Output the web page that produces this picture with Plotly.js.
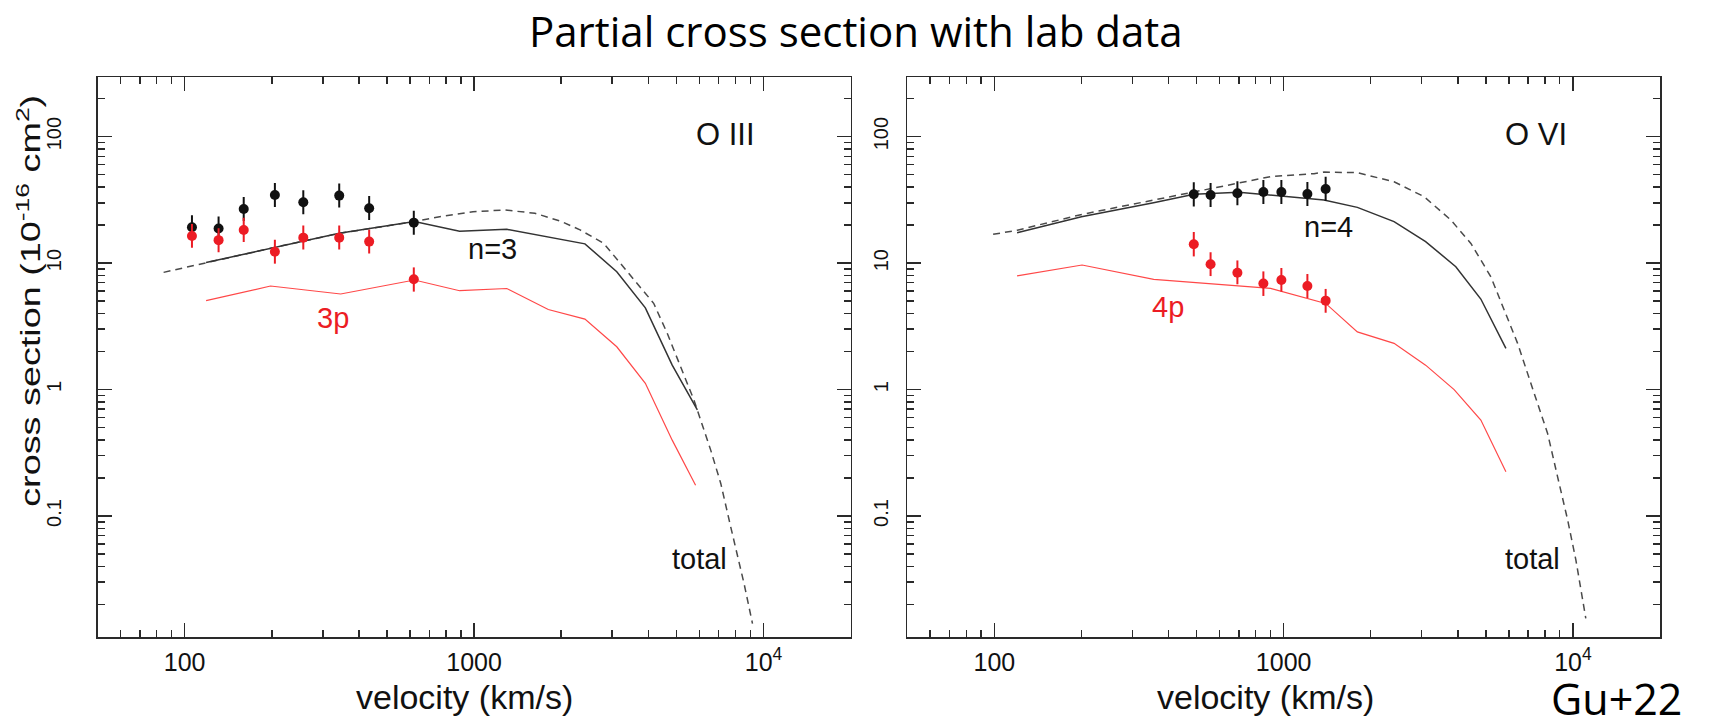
<!DOCTYPE html>
<html>
<head>
<meta charset="utf-8">
<script src="https://cdn.plot.ly/plotly-3.0.1.min.js"></script>
<style>html,body{margin:0;padding:0;background:#fff;}#chart{width:1711px;height:720px;}</style>
</head>
<body>
<div id="chart"></div>
<script>
// ---------- O III panel (left) ----------
const vLabOIII = [106, 131, 160, 205, 257, 342, 434, 619];
const sN3Lab = [19.2, 18.8, 26.8, 34.6, 30.3, 34.2, 27.2, 20.9];
const sN3LabErrPlus = [4.7, 4.6, 6.6, 8.5, 7.4, 8.4, 6.7, 5.1];
const sN3LabErrMinus = [3.8, 3.7, 5.3, 6.8, 5.9, 6.7, 5.3, 4.1];
const s3pLab = [16.4, 15.2, 18.3, 12.3, 15.9, 15.9, 14.8, 7.45];
const s3pLabErrPlus = [4.0, 3.7, 4.5, 3.0, 3.9, 3.9, 3.6, 1.8];
const s3pLabErrMinus = [3.2, 3.0, 3.6, 2.4, 3.1, 3.1, 2.9, 1.5];

const vN3 = [118.6, 198, 342, 622, 891, 1297, 2415, 3111, 3905, 4835, 5905];
const sN3 = [10.1, 13.1, 17.2, 21.3, 17.9, 18.5, 14.2, 8.55, 4.43, 1.56, 0.69];
const v3p = [118.6, 198, 346, 622, 891, 1297, 1804, 2415, 3111, 3905, 4835, 5823];
const s3p = [5.05, 6.59, 5.70, 7.35, 6.05, 6.30, 4.30, 3.61, 2.18, 1.12, 0.398, 0.175];
const vTotOIII = [84.6, 118.6, 198, 342, 622, 760, 991, 1277, 1622, 2008, 2323, 2799, 3200, 3656, 4172, 4643, 5170, 5748, 6568, 7114, 7700, 8560, 9157];
const sTotOIII = [8.45, 10.1, 13.1, 17.2, 21.3, 23.3, 25.5, 26.3, 24.8, 21.3, 18.3, 14.4, 9.96, 6.92, 4.81, 2.8, 1.51, 0.826, 0.332, 0.181, 0.082, 0.0293, 0.0141];

// ---------- O VI panel (right) ----------
const vLabOVI = [489, 559, 692, 851, 982, 1208, 1397];
const sN4Lab = [35.0, 34.6, 35.7, 36.5, 36.5, 35.2, 38.6];
const sN4LabErrPlus = [8.6, 8.5, 8.7, 8.9, 8.9, 8.6, 9.5];
const sN4LabErrMinus = [6.9, 6.8, 7.0, 7.1, 7.1, 6.9, 7.6];
const s4pLab = [14.1, 9.8, 8.4, 6.9, 7.35, 6.6, 5.05];
const s4pLabErrPlus = [3.5, 2.4, 2.1, 1.7, 1.8, 1.6, 1.2];
const s4pLabErrMinus = [2.8, 1.9, 1.6, 1.4, 1.4, 1.3, 1.0];

const vN4 = [119.8, 200, 355, 490, 700, 901, 1378, 1798, 2408, 3096, 3937, 4805, 5866];
const sN4 = [17.4, 23.3, 30.0, 35.0, 36.3, 34.6, 31.6, 27.6, 21.3, 14.8, 9.37, 5.20, 2.12];
const v4p = [119.8, 201, 355.5, 901, 1397, 1798, 2408, 3096, 3884, 4805, 5866];
const s4p = [7.94, 9.66, 7.45, 6.32, 4.8, 2.86, 2.32, 1.56, 1.00, 0.574, 0.224];
const vTotOVI = [99, 120, 201, 355, 490, 692, 901, 1273, 1378, 1798, 2408, 3060, 3787, 4439, 5204, 5636, 6438, 7348, 8175, 8852, 9590, 10240, 11080];
const sTotOVI = [16.9, 18.2, 24.3, 31.5, 37.0, 43.3, 48.3, 51.0, 52.5, 51.9, 44.0, 33.5, 21.9, 14.3, 7.80, 4.95, 2.32, 0.933, 0.450, 0.204, 0.093, 0.0448, 0.0155];

// ---------- ticks ----------
const xMajor = [100, 1000, 10000];
const xMajorText = ['100', '1000', '10<sup>4</sup>'];
const xMinor = [60, 70, 80, 90, 200, 300, 400, 500, 600, 700, 800, 900, 2000, 3000, 4000, 5000, 6000, 7000, 8000, 9000];
const yMajor = [0.1, 1, 10, 100];
const yMajorText = ['0.1', '1', '10', '100'];
const yMinor = [0.02, 0.03, 0.04, 0.05, 0.06, 0.07, 0.08, 0.09, 0.2, 0.3, 0.4, 0.5, 0.6, 0.7, 0.8, 0.9, 2, 3, 4, 5, 6, 7, 8, 9, 20, 30, 40, 50, 60, 70, 80, 90, 200];

const W = 1711, H = 720;
const fx = p => p / W;
const fy = p => 1 - p / H;

const FONT = 'Liberation Sans, Arial, Helvetica, sans-serif';
const BLACK = '#111111';
const RED = '#ec1c24';
const RED_LINE = '#ff4848';
const AX = '#2a2a2a';

function lineTrace(x, y, xa, ya, color, width, dash) {
  return {x: x, y: y, xaxis: xa, yaxis: ya, mode: 'lines', type: 'scatter',
    line: {color: color, width: width, dash: dash || 'solid'}, hoverinfo: 'skip'};
}
function pointTrace(x, y, ep, em, xa, ya, color) {
  return {x: x, y: y, xaxis: xa, yaxis: ya, mode: 'markers', type: 'scatter',
    marker: {color: color, size: 10, line: {width: 0}},
    error_y: {type: 'data', symmetric: false, array: ep, arrayminus: em, color: color, thickness: 2, width: 0},
    hoverinfo: 'skip'};
}

const traces = [
  lineTrace(vTotOIII, sTotOIII, 'x', 'y', '#4a4a4a', 1.5, '7px,5px'),
  lineTrace(vN3, sN3, 'x', 'y', '#333333', 1.5),
  lineTrace(v3p, s3p, 'x', 'y', RED_LINE, 1.2),
  pointTrace(vLabOIII, sN3Lab, sN3LabErrPlus, sN3LabErrMinus, 'x', 'y', BLACK),
  pointTrace(vLabOIII, s3pLab, s3pLabErrPlus, s3pLabErrMinus, 'x', 'y', RED),
  lineTrace(vTotOVI, sTotOVI, 'x2', 'y2', '#4a4a4a', 1.5, '7px,5px'),
  lineTrace(vN4, sN4, 'x2', 'y2', '#333333', 1.5),
  lineTrace(v4p, s4p, 'x2', 'y2', RED_LINE, 1.2),
  pointTrace(vLabOVI, sN4Lab, sN4LabErrPlus, sN4LabErrMinus, 'x2', 'y2', BLACK),
  pointTrace(vLabOVI, s4pLab, s4pLabErrPlus, s4pLabErrMinus, 'x2', 'y2', RED)
];

function xAxis(domain, anchor) {
  return {
    type: 'log', domain: domain, anchor: anchor,
    range: [Math.log10(50), Math.log10(20000)],
    showline: true, mirror: 'allticks', linecolor: AX, linewidth: 1.5,
    ticks: 'inside', ticklen: 14, tickwidth: 1.5, tickcolor: AX,
    tickmode: 'array', tickvals: xMajor, ticktext: xMajorText,
    tickfont: {family: FONT, size: 25, color: BLACK},
    ticklabelstandoff: 2,
    minor: {tickmode: 'array', tickvals: xMinor, ticks: 'inside', ticklen: 7, tickwidth: 1.5, tickcolor: AX, showgrid: false},
    showgrid: false, zeroline: false
  };
}
function yAxis(domain, anchor, standoff) {
  return {
    type: 'log', domain: domain, anchor: anchor,
    range: [-1.957, 2.472],
    showline: true, mirror: 'allticks', linecolor: AX, linewidth: 1.5,
    ticks: 'inside', ticklen: 14, tickwidth: 1.5, tickcolor: AX,
    tickmode: 'array', tickvals: yMajor, ticktext: yMajorText, tickangle: -90,
    tickfont: {family: FONT, size: 20, color: BLACK},
    ticklabelstandoff: standoff,
    minor: {tickmode: 'array', tickvals: yMinor, ticks: 'inside', ticklen: 7, tickwidth: 1.5, tickcolor: AX, showgrid: false},
    showgrid: false, zeroline: false
  };
}

function note(text, x, y, size, color, family, angle) {
  return {text: text, xref: 'paper', yref: 'paper', x: fx(x), y: fy(y), xanchor: 'center', yanchor: 'middle',
    showarrow: false, textangle: angle || 0, font: {family: family || FONT, size: size, color: color || BLACK}};
}

const Y_TITLE = 'cross section (10<sup>-16</sup> cm<sup>2</sup>)';
const yDom = [fy(637), fy(77)];
const layout = {
  width: W, height: H,
  margin: {l: 0, r: 0, t: 0, b: 0},
  paper_bgcolor: '#ffffff', plot_bgcolor: '#ffffff',
  showlegend: false,
  xaxis: xAxis([fx(97.5), fx(850.7)], 'y'),
  yaxis: yAxis(yDom, 'x', 27),
  xaxis2: xAxis([fx(907.3), fx(1660)], 'y2'),
  yaxis2: yAxis(yDom, 'x2', 10),
  annotations: [
    note('Partial cross section with lab data', 855.5, 31, 42, '#000', 'Open Sans, sans-serif'),
    note(Y_TITLE, 29, 301, 27, BLACK, FONT, -90),
    note('velocity (km/s)', 464, 697, 34),
    note('velocity (km/s)', 1265, 697, 34),
    note('O III', 725, 134, 31),
    note('n=3', 492.5, 249, 29),
    note('3p', 332.5, 318, 29, RED),
    note('total', 699.5, 559, 29),
    note('O VI', 1535.5, 134, 31),
    note('n=4', 1328, 227, 29),
    note('4p', 1167.5, 307, 29, RED),
    note('total', 1532, 559, 29),
    note('Gu+22', 1616, 698, 43, '#000', 'Open Sans, sans-serif')
  ]
};

Plotly.newPlot('chart', traces, layout, {displayModeBar: false, staticPlot: true}).then(function (gd) {
  // the reference's axis title is drawn taller than its glyph height; stretch it along its length
  const texts = gd.querySelectorAll('g.annotation text.annotation-text');
  texts.forEach(function (t) {
    if (t.textContent.indexOf('cross section') === 0) {
      t.setAttribute('textLength', '412');
      t.setAttribute('lengthAdjust', 'spacingAndGlyphs');
    }
  });
});
</script>
</body>
</html>
